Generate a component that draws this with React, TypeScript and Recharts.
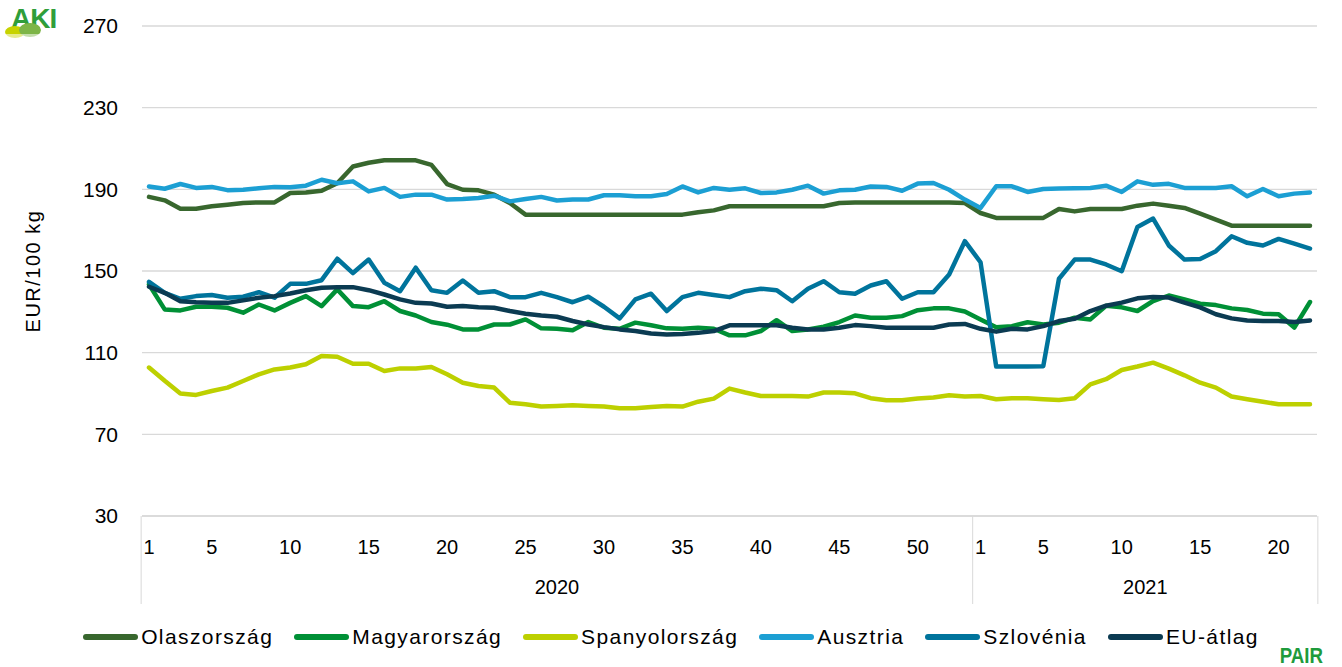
import React from 'react';
import { LineChart, Line, XAxis, YAxis, CartesianGrid, Legend } from 'recharts';

const FONT = '"Liberation Sans", Arial, Helvetica, sans-serif';

const weeks2020 = [1,2,3,4,5,6,7,8,9,10,11,12,13,14,15,16,17,18,19,20,21,22,23,24,25,26,27,28,29,30,31,32,33,34,35,36,37,38,39,40,41,42,43,44,45,46,47,48,49,50,51,52,53];
const weeks2021 = [1,2,3,4,5,6,7,8,9,10,11,12,13,14,15,16,17,18,19,20,21,22];
const yearLabels = ['2020', '2021'];
const weekTickLabels = [1, 5, 10, 15, 20, 25, 30, 35, 40, 45, 50];
const yTicks = [30, 70, 110, 150, 190, 230, 270];

const olaszorszag = [
  186.3,184.6,180.5,180.5,181.7,182.5,183.3,183.6,183.6,188.2,188.5,189.3,193.0,201.2,203.0,204.2,204.2,204.2,202.0,192.6,
  189.8,189.5,187.4,183.3,177.6,177.6,177.6,177.6,177.6,177.6,177.6,177.6,177.6,177.6,177.6,178.8,179.7,181.7,181.7,181.7,
  181.7,181.7,181.7,181.7,183.3,183.6,183.6,183.6,183.6,183.6,183.6,183.6,183.3,
  178.4,176.0,176.0,176.0,176.0,180.4,179.2,180.4,180.4,180.4,182.0,183.0,182.0,180.9,178.1,175.2,172.2,172.2,172.2,172.2,172.2,172.2
];
const magyarorszag = [
  143.4,131.2,130.7,132.5,132.5,132.0,129.6,133.6,130.7,134.4,137.7,132.8,141.0,132.8,132.3,135.2,130.4,128.2,125.0,123.7,
  121.4,121.4,123.8,123.8,126.3,121.9,121.7,121.0,125.0,122.2,121.7,124.7,123.4,121.9,121.7,122.2,121.7,118.5,118.5,120.6,
  125.9,120.6,121.4,122.7,125.0,128.2,127.1,127.1,127.9,130.8,131.7,131.7,130.2,
  126.3,122.5,123.0,124.9,123.8,124.7,127.1,126.3,133.0,132.2,130.4,135.3,138.0,136.1,134.0,133.3,131.7,130.9,129.1,128.8,122.3,134.8
];
const spanyolorszag = [
  102.7,96.2,90.0,89.3,91.2,92.9,96.1,99.4,101.8,102.7,104.3,108.4,108.0,104.6,104.6,101.0,102.3,102.3,103.0,99.4,
  95.3,93.7,92.9,85.5,84.7,83.6,83.9,84.3,83.9,83.6,82.8,82.8,83.4,83.9,83.6,86.0,87.5,92.4,90.5,88.8,
  88.8,88.8,88.5,90.5,90.5,90.1,87.7,86.7,86.7,87.5,88.0,89.1,88.5,
  88.8,87.2,87.7,87.7,87.2,86.8,87.7,94.5,97.0,101.5,103.2,105.1,102.2,98.9,95.3,92.9,88.5,87.2,86.0,84.7,84.7,84.7
];
const ausztria = [
  191.4,190.3,192.6,190.7,191.2,189.6,189.8,190.5,191.2,191.0,191.8,194.7,193.0,193.9,189.0,190.7,186.3,187.4,187.4,185.0,
  185.3,185.8,186.9,184.1,185.3,186.3,184.5,185.0,185.0,187.1,187.1,186.6,186.6,187.7,191.4,188.5,190.7,189.8,190.5,188.2,
  188.5,189.8,191.8,187.9,189.5,189.8,191.4,191.2,189.3,192.8,193.1,189.8,185.0,
  180.9,191.5,191.5,188.7,190.2,190.4,190.5,190.7,191.8,188.7,193.9,192.2,192.7,190.7,190.7,190.7,191.5,186.6,190.2,186.6,187.9,188.5
];
const szlovenia = [
  144.7,139.3,136.4,137.7,138.2,136.9,137.4,139.6,136.9,143.7,143.7,145.5,156.0,149.0,155.6,144.2,140.1,151.6,140.6,139.3,
  145.3,139.3,140.1,137.2,137.2,139.3,137.2,134.7,137.4,132.5,126.8,136.1,138.9,130.4,137.2,139.3,138.2,137.2,140.1,141.3,
  140.6,135.2,141.3,145.0,139.6,138.9,142.9,145.0,136.4,139.6,139.6,148.3,164.6,
  154.3,103.2,103.2,103.2,103.4,146.2,155.6,155.6,153.2,149.9,171.6,175.7,162.5,155.6,155.9,159.7,167.0,163.8,162.5,165.7,163.4,161.0
];
const euAtlag = [
  142.3,139.3,135.2,134.7,134.4,134.4,135.6,136.9,137.7,139.0,140.6,141.8,142.1,142.1,140.6,138.5,136.1,134.4,134.1,132.5,
  132.8,132.3,132.0,130.4,129.1,128.2,127.6,125.5,123.8,122.5,121.4,120.6,119.4,118.9,119.2,119.7,120.6,123.4,123.4,123.4,
  123.4,122.2,121.4,121.4,122.2,123.5,123.0,122.2,122.2,122.2,122.2,123.8,124.1,
  121.7,120.3,121.7,121.4,123.0,125.5,126.6,130.4,133.0,134.5,136.6,137.3,137.0,134.5,132.2,128.8,126.8,125.8,125.5,125.5,125.0,125.8
];

const seriesNames = ['Olaszország', 'Magyarország', 'Spanyolország', 'Ausztria', 'Szlovénia', 'EU-átlag'];
const seriesColors = ['#38672E', '#009036', '#BDD000', '#1C9FD3', '#00749C', '#0B3B52'];
const seriesValues = [olaszorszag, magyarorszag, spanyolorszag, ausztria, szlovenia, euAtlag];

const weekList = [...weeks2020, ...weeks2021];
const yearList = [...weeks2020.map(() => yearLabels[0]), ...weeks2021.map(() => yearLabels[1])];

const data = weekList.map((w, i) => {
  const row: any = { key: `${yearList[i]}-${w}`, week: w, year: yearList[i] };
  seriesValues.forEach((vals, s) => { row['s' + s] = vals[i]; });
  return row;
});

const GRID = '#D9D9D9';
const HALF = 7.85;

const XTick = (props: any) => {
  const { x, y, index } = props;
  const w = weekList[index];
  const showLabel = weekTickLabels.includes(w);
  const first2021 = weeks2020.length;
  const mid2020 = Math.floor((weeks2020.length - 1) / 2);
  const mid2021 = first2021 + Math.floor((weeks2021.length - 1) / 2);
  return (
    <g>
      {showLabel && (
        <text x={x} y={y + 38} textAnchor="middle" fontSize={20} fontFamily={FONT} fill="#000">{w}</text>
      )}
      {index === 0 && <line x1={x - HALF} x2={x - HALF} y1={y} y2={y + 88} stroke={GRID} strokeWidth={1} />}
      {index === first2021 && <line x1={x - HALF} x2={x - HALF} y1={y} y2={y + 88} stroke={GRID} strokeWidth={1} />}
      {index === weekList.length - 1 && <line x1={x + HALF} x2={x + HALF} y1={y} y2={y + 88} stroke={GRID} strokeWidth={1} />}
      {index === mid2020 && (
        <text x={x} y={y + 78} textAnchor="middle" fontSize={20} fontFamily={FONT} fill="#000">{yearLabels[0]}</text>
      )}
      {index === mid2021 && (
        <text x={x + HALF} y={y + 78} textAnchor="middle" fontSize={20} fontFamily={FONT} fill="#000">{yearLabels[1]}</text>
      )}
    </g>
  );
};

const YLabel = (props: any) => {
  const vb = props.viewBox || {};
  const cy = (vb.y || 0) + (vb.height || 0) / 2;
  const cx = 33;
  return (
    <text x={cx} y={cy} transform={`rotate(-90 ${cx} ${cy})`} textAnchor="middle" dominantBaseline="central" fontSize={20} fontFamily={FONT} fill="#000" letterSpacing={1.5}>
      EUR/100 kg
    </text>
  );
};

const LegendContent = (props: any) => {
  const payload = [...(props.payload || [])].sort(
    (a: any, b: any) => seriesNames.indexOf(a.value) - seriesNames.indexOf(b.value)
  );
  return (
    <div style={{ display: 'flex', justifyContent: 'center', alignItems: 'center', fontFamily: FONT, fontSize: 21, letterSpacing: 1.4, color: '#000' }}>
      {payload.map((e: any, i: number) => (
        <div key={e.value} style={{ display: 'flex', alignItems: 'center', marginLeft: i === 0 ? 0 : 21 }}>
          <span style={{ display: 'inline-block', width: 55, height: 6, borderRadius: 3, background: e.color, marginRight: 3 }} />
          <span>{e.value}</span>
        </div>
      ))}
    </div>
  );
};

export default function App() {
  return (
    <div style={{ position: 'absolute', left: 0, top: 0, width: 1342, height: 667, background: '#fff', overflow: 'hidden' }}>
      <LineChart width={1342} height={667} data={data} margin={{ top: 26, right: 25, left: 0, bottom: 37 }}>
        <CartesianGrid vertical={false} stroke={GRID} strokeWidth={1.3} />
        <XAxis
          dataKey="key"
          interval={0}
          tickLine={false}
          tickSize={0}
          tickMargin={0}
          axisLine={{ stroke: GRID, strokeWidth: 1.3 }}
          tick={<XTick />}
          height={90}
          padding={{ left: 7, right: 7 }}
        />
        <YAxis
          domain={[30, 270]}
          ticks={yTicks}
          interval={0}
          width={142}
          axisLine={false}
          tickLine={false}
          tickSize={0}
          tickMargin={24}
          tick={{ fill: '#000', fontSize: 21, fontFamily: FONT }}
          label={<YLabel />}
        />
        <Legend
          verticalAlign="bottom"
          itemSorter={null as any}
          content={<LegendContent />}
          wrapperStyle={{ left: 0, width: 1342, bottom: 18 }}
        />
        {seriesNames.map((name, s) => (
          <Line
            key={name}
            type="linear"
            dataKey={'s' + s}
            name={name}
            stroke={seriesColors[s]}
            strokeWidth={4.5}
            strokeLinejoin="round"
            strokeLinecap="round"
            dot={false}
            activeDot={false}
            isAnimationActive={false}
          />
        ))}
      </LineChart>
      <svg style={{ position: 'absolute', left: 2, top: 4 }} width={60} height={36}>
        <text x={9} y={24} fontFamily={FONT} fontWeight="bold" fontSize={28} fill="#2F9E3A" letterSpacing={-1}>AKI</text>
        <ellipse cx={13} cy={28} rx={10} ry={6} fill="#C7D300" />
        <ellipse cx={28} cy={26} rx={11} ry={7} fill="#7DB547" />
        <rect x={0} y={30} width={60} height={6} fill="#ffffff" opacity={0.55} />
      </svg>
      <svg style={{ position: 'absolute', left: 1278, top: 644 }} width={56} height={23}>
        <text x={2} y={19} fontFamily={FONT} fontWeight="bold" fontSize={22} fill="#1E9B3C" transform="scale(0.85,1)">PAIR</text>
      </svg>
    </div>
  );
}
